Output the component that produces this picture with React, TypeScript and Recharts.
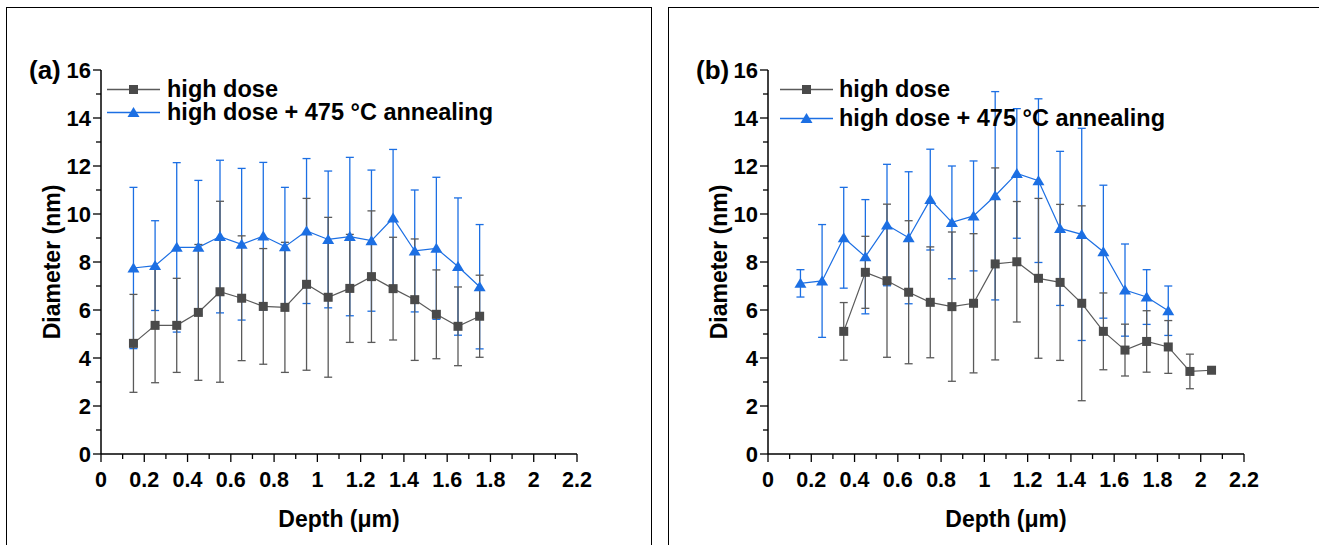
import React from 'react';
import { LineChart, Line, XAxis, YAxis, ErrorBar, Legend, Label } from 'recharts';

// ---------- data ----------
const depthA = [0.15, 0.25, 0.35, 0.45, 0.55, 0.65, 0.75, 0.85, 0.95, 1.05, 1.15, 1.25, 1.35, 1.45, 1.55, 1.65, 1.75];
const highDoseA = [4.61, 5.36, 5.36, 5.9, 6.76, 6.49, 6.15, 6.11, 7.07, 6.53, 6.9, 7.39, 6.89, 6.43, 5.82, 5.32, 5.74];
const highDoseErrA = [2.04, 2.39, 1.96, 2.83, 3.77, 2.6, 2.41, 2.71, 3.58, 3.33, 2.25, 2.74, 2.14, 2.53, 1.85, 1.64, 1.71];
const annealA = [7.75, 7.85, 8.61, 8.61, 9.06, 8.74, 9.08, 8.64, 9.29, 8.94, 9.06, 8.89, 9.83, 8.46, 8.57, 7.81, 6.97];
const annealErrA = [3.36, 1.87, 3.53, 2.79, 3.18, 3.16, 3.07, 2.47, 3.02, 2.85, 3.3, 2.94, 2.86, 2.54, 2.96, 2.86, 2.59];

const depthB = [0.15, 0.25, 0.35, 0.45, 0.55, 0.65, 0.75, 0.85, 0.95, 1.05, 1.15, 1.25, 1.35, 1.45, 1.55, 1.65, 1.75, 1.85, 1.95, 2.05];
const highDoseB = [null, null, 5.11, 7.57, 7.22, 6.74, 6.32, 6.14, 6.28, 7.92, 8.01, 7.32, 7.15, 6.28, 5.11, 4.33, 4.69, 4.46, 3.44, 3.49];
const highDoseErrB = [null, null, 1.2, 1.5, 3.19, 2.98, 2.31, 3.11, 2.9, 4.0, 2.51, 3.33, 3.25, 4.06, 1.6, 1.08, 1.28, 1.1, 0.72, 0.1];
const annealB = [7.11, 7.21, 9.01, 8.22, 9.54, 9.01, 10.6, 9.65, 9.92, 10.76, 11.69, 11.39, 9.4, 9.15, 8.43, 6.83, 6.54, 5.97, null, null];
const annealErrB = [0.57, 2.35, 2.1, 2.38, 2.53, 2.75, 2.1, 2.35, 2.29, 4.34, 2.7, 3.41, 3.21, 4.42, 2.77, 1.92, 1.14, 1.03, null, null];

const seriesNames = ['high dose', 'high dose + 475 °C annealing'];
const panelTags = ['(a)', '(b)'];
const xTitle = 'Depth (μm)';
const yTitle = 'Diameter (nm)';

const xTicks = [0, 0.1, 0.2, 0.3, 0.4, 0.5, 0.6, 0.7, 0.8, 0.9, 1, 1.1, 1.2, 1.3, 1.4, 1.5, 1.6, 1.7, 1.8, 1.9, 2, 2.1, 2.2];
const xTickLabels = ['0', '0.2', '0.4', '0.6', '0.8', '1', '1.2', '1.4', '1.6', '1.8', '2', '2.2'];
const yTicks = [0, 1, 2, 3, 4, 5, 6, 7, 8, 9, 10, 11, 12, 13, 14, 15, 16];
const yTickLabels = ['0', '2', '4', '6', '8', '10', '12', '14', '16'];

// ---------- style ----------
const FONT = '"Liberation Sans", Arial, Helvetica, sans-serif';
const GRAY = '#4a4a4a';
const GRAY_LINE = '#5a5a5a';
const BLUE = '#1c6fe3';

const makeSeries = (x: number[], y: (number | null)[], e: (number | null)[]) =>
  x.map((d, i) => ({ depth: d, value: y[i], err: e[i] })).filter((p) => p.value != null);

const XTick = (props: any) => {
  const { x, y, index } = props;
  const major = index % 2 === 0;
  return (
    <g>
      <line x1={x} x2={x} y1={y} y2={y + (major ? 8 : 5)} stroke="#000" strokeWidth={1.3} />
      {major && (
        <text x={x} y={y + 33} textAnchor="middle" fontFamily={FONT} fontWeight="bold" fontSize={21.5} fill="#000">
          {xTickLabels[index / 2]}
        </text>
      )}
    </g>
  );
};

const YTick = (props: any) => {
  const { x, y, index } = props;
  const major = index % 2 === 0;
  return (
    <g>
      <line x1={x} x2={x - (major ? 8 : 5)} y1={y} y2={y} stroke="#000" strokeWidth={1.3} />
      {major && (
        <text x={x - 10} y={y + 8} textAnchor="end" fontFamily={FONT} fontWeight="bold" fontSize={22} fill="#000">
          {yTickLabels[index / 2]}
        </text>
      )}
    </g>
  );
};

const SquareDot = (p: any) => {
  if (p.cx == null || p.cy == null) return <g key={p.index} />;
  return <rect key={p.index} x={p.cx - 4.5} y={p.cy - 4.5} width={9} height={9} fill={GRAY} />;
};
const TriDot = (p: any) => {
  if (p.cx == null || p.cy == null) return <g key={p.index} />;
  const { cx, cy } = p;
  return <polygon key={p.index} points={`${cx},${cy - 5.5} ${cx - 6},${cy + 4.5} ${cx + 6},${cy + 4.5}`} fill={BLUE} />;
};

const LegendBox = ({ rowH, textGap }: { rowH: number; textGap: number }) => (
  <div style={{ fontFamily: FONT, fontWeight: 'bold', fontSize: 23.5, color: '#000' }}>
    {seriesNames.map((name, i) => (
      <div key={name} style={{ display: 'flex', alignItems: 'center', height: rowH, whiteSpace: 'nowrap' }}>
        <svg width={53} height={rowH} style={{ display: 'block' }}>
          <line x1={0} x2={53} y1={rowH / 2} y2={rowH / 2} stroke={i === 0 ? GRAY_LINE : BLUE} strokeWidth={1.3} />
          {i === 0 ? (
            <rect x={26.5 - 4.5} y={rowH / 2 - 4.5} width={9} height={9} fill={GRAY} />
          ) : (
            <polygon points={`26.5,${rowH / 2 - 5.5} 20.5,${rowH / 2 + 4.5} 32.5,${rowH / 2 + 4.5}`} fill={BLUE} />
          )}
        </svg>
        <span style={{ marginLeft: textGap, lineHeight: `${rowH}px` }}>{name}</span>
      </div>
    ))}
  </div>
);

type PanelProps = {
  left: number;
  width: number;
  tag: string;
  gray: any[];
  blue: any[];
  legendLeft: number;
  legendTop: number;
  rowH: number;
  textGap: number;
};

const Panel = ({ left, width, tag, gray, blue, legendLeft, legendTop, rowH, textGap }: PanelProps) => {
  const plotLeft = 101;
  const plotRight = plotLeft + 476;
  return (
    <div style={{ position: 'absolute', left, top: 0 }}>
      <LineChart width={width} height={545} margin={{ top: 70, right: width - plotRight, left: 41, bottom: 31 }}>
        <XAxis
          type="number"
          dataKey="depth"
          domain={[0, 2.2]}
          ticks={xTicks}
          interval={0}
          allowDataOverflow
          tick={(p: any) => <XTick {...p} />}
          tickLine={false}
          tickSize={0}
          tickMargin={0}
          height={60}
          axisLine={{ stroke: '#000', strokeWidth: 1.5 }}
        >
          <Label
            content={() => (
              <text x={(plotLeft + plotRight) / 2} y={527} textAnchor="middle" fontFamily={FONT} fontWeight="bold" fontSize={23} fill="#000">
                {xTitle}
              </text>
            )}
          />
        </XAxis>
        <YAxis
          type="number"
          domain={[0, 16]}
          ticks={yTicks}
          interval={0}
          allowDataOverflow
          tick={(p: any) => <YTick {...p} />}
          tickLine={false}
          tickSize={0}
          tickMargin={0}
          width={60}
          axisLine={{ stroke: '#000', strokeWidth: 1.5 }}
        >
          <Label
            content={() => (
              <g>
                <text
                  x={60}
                  y={262}
                  transform="rotate(-90, 60, 262)"
                  textAnchor="middle"
                  fontFamily={FONT}
                  fontWeight="bold"
                  fontSize={23}
                  fill="#000"
                >
                  {yTitle}
                </text>
                <text x={29} y={79} fontFamily={FONT} fontWeight="bold" fontSize={26} fill="#000">
                  {tag}
                </text>
              </g>
            )}
          />
        </YAxis>
        <Legend
          layout="horizontal"
          verticalAlign="middle"
          align="center"
          wrapperStyle={{ left: legendLeft, top: legendTop, width: 'auto' }}
          content={() => <LegendBox rowH={rowH} textGap={textGap} />}
        />
        <Line
          data={blue}
          dataKey="value"
          name={seriesNames[1]}
          stroke={BLUE}
          strokeWidth={1.2}
          dot={TriDot}
          activeDot={false}
          isAnimationActive={false}
        >
          <ErrorBar dataKey="err" direction="y" width={4} stroke={BLUE} strokeWidth={1.3} isAnimationActive={false} />
        </Line>
        <Line
          data={gray}
          dataKey="value"
          name={seriesNames[0]}
          stroke={GRAY_LINE}
          strokeWidth={1.2}
          dot={SquareDot}
          activeDot={false}
          isAnimationActive={false}
        >
          <ErrorBar dataKey="err" direction="y" width={4} stroke={GRAY_LINE} strokeWidth={1.3} isAnimationActive={false} />
        </Line>
      </LineChart>
    </div>
  );
};

export default function App() {
  const grayA = makeSeries(depthA, highDoseA, highDoseErrA);
  const blueA = makeSeries(depthA, annealA, annealErrA);
  const grayB = makeSeries(depthB, highDoseB, highDoseErrB);
  const blueB = makeSeries(depthB, annealB, annealErrB);
  return (
    <div style={{ position: 'absolute', left: 0, top: 0, width: 1319, height: 545, overflow: 'hidden', background: '#fff' }}>
      <div style={{ position: 'absolute', left: 6, top: 7, width: 646, height: 560, border: '1.5px solid #000', boxSizing: 'border-box' }} />
      <div style={{ position: 'absolute', left: 668, top: 7, width: 700, height: 560, border: '1.5px solid #000', boxSizing: 'border-box' }} />
      <Panel left={0} width={660} tag={panelTags[0]} gray={grayA} blue={blueA} legendLeft={107} legendTop={77.5} rowH={23} textGap={7} />
      <Panel left={667} width={652} tag={panelTags[1]} gray={grayB} blue={blueB} legendLeft={113} legendTop={74.5} rowH={29} textGap={6} />
    </div>
  );
}
